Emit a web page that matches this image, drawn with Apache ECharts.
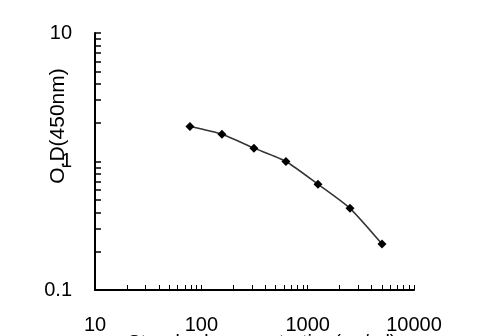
<!DOCTYPE html>
<html><head><meta charset="utf-8">
<script src="https://cdn.jsdelivr.net/npm/echarts@6/dist/echarts.min.js"></script>
<style>html,body{margin:0;padding:0;background:#fff}#c{width:488px;height:336px}</style>
</head><body><div id="c"></div>
<script>
const concentrations = [78.125, 156.25, 312.5, 625, 1250, 2500, 5000];
const odValues = [1.87, 1.63, 1.27, 1.0, 0.665, 0.432, 0.228];
const xTickValues = [20,30,40,50,60,70,80,90,100,200,300,400,500,600,700,800,900,1000,2000,3000,4000,5000,6000,7000,8000,9000,10000];
const yTickValues = [0.2,0.3,0.4,0.5,0.6,0.7,0.8,0.9,1,2,3,4,5,6,7,8,9,10];
const xLabels = [10,100,1000,10000];
const yLabels = [0.1,1,10];
const yTitle = 'O.D(450nm)';
const xTitle = 'Standard concentration(ng/ml)';

const chart = echarts.init(document.getElementById('c'));
const font = 'Liberation Sans, Arial, sans-serif';
chart.setOption({
  animation:false,
  backgroundColor:'#fff',
  grid:{left:95,right:74,top:33,bottom:46},
  xAxis:{type:'log',logBase:10,min:10,max:10000,
    axisLine:{lineStyle:{color:'#000',width:2}},
    axisTick:{inside:true,length:5,customValues:xTickValues,lineStyle:{color:'#000',width:1}},
    axisLabel:{customValues:xLabels,margin:25,color:'#000',fontSize:20,fontFamily:font,formatter:v=>String(v)},
    splitLine:{show:false}},
  yAxis:{type:'log',logBase:10,min:0.1,max:10,
    axisLine:{lineStyle:{color:'#000',width:2}},
    axisTick:{inside:true,length:6,customValues:yTickValues,lineStyle:{color:'#000',width:1.5}},
    axisLabel:{customValues:yLabels,margin:23,color:'#000',fontSize:20,fontFamily:font,formatter:v=>String(v)},
    splitLine:{show:false}},
  graphic:[
    {type:'text',x:58,y:126,rotation:Math.PI/2,style:{text:yTitle,fill:'#000',font:'21px '+font,align:'center',verticalAlign:'middle'}},
    {type:'text',x:262,y:333,style:{text:xTitle,fill:'#000',font:'20px '+font,align:'center',verticalAlign:'top'}}
  ],
  series:[{type:'line',data:concentrations.map((c,i)=>[c,odValues[i]]),
    smooth:0.2,symbol:'diamond',symbolSize:9,
    lineStyle:{color:'#333',width:1.5},itemStyle:{color:'#000'}}]
});
</script></body></html>
